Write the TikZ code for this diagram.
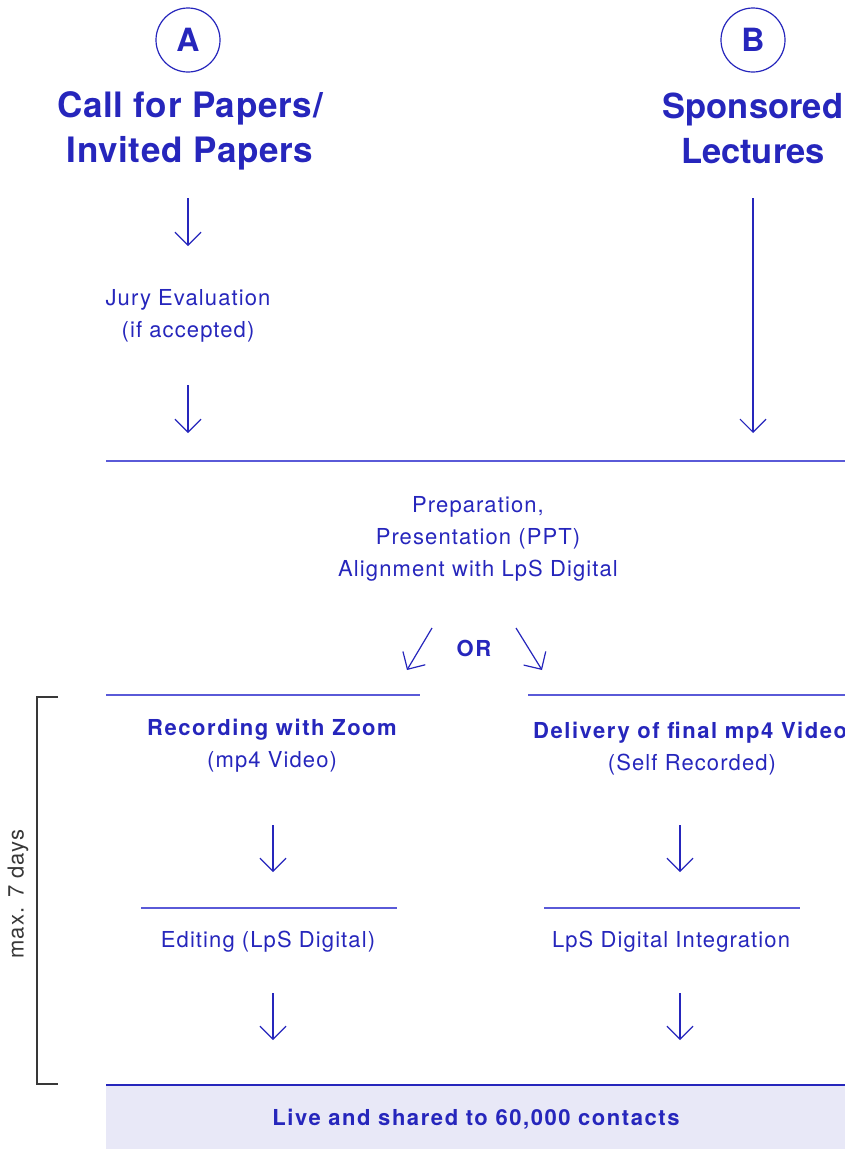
\documentclass[tikz,border=0pt]{standalone}
\usepackage{fontspec}
\setmainfont{TeX Gyre Heros}
\newfontfamily\bodyfont[LetterSpace=5]{TeX Gyre Heros}
\newfontfamily\boldfont[LetterSpace=7]{TeX Gyre Heros}
\newfontfamily\headfont[LetterSpace=2]{TeX Gyre Heros}
\newfontfamily\headtight{TeX Gyre Heros}
\usetikzlibrary{arrows.meta}
\definecolor{ink}{HTML}{2626BC}
\definecolor{rule}{HTML}{5A5AD8}
\definecolor{barfill}{HTML}{E8E8F7}
\definecolor{brk}{HTML}{383838}
\tikzset{
  head/.style={text=ink, font=\headfont\fontsize{35}{45}\selectfont\bfseries, align=center, inner sep=0pt},
  body/.style={text=ink, font=\bodyfont\fontsize{22}{32}\selectfont, align=center, inner sep=0pt},
  bodyb/.style={text=ink, font=\boldfont\fontsize{22}{32}\selectfont\bfseries, align=center, inner sep=0pt},
  letter/.style={circle, draw=ink, line width=1.2pt, minimum size=64pt, inner sep=0pt, text=ink, font=\fontsize{32}{32}\selectfont\bfseries},
  flow/.style={draw=ink, line width=1.2pt, -{Straight Barb[length=13pt,width=26pt,line width=1.2pt]}},
  sep/.style={draw=rule, line width=1.3pt},
}
\begin{document}
\begin{tikzpicture}[x=1pt,y=-1pt]
\useasboundingbox (0,0) rectangle (845,1149);
\clip (0,0) rectangle (845,1149);
% circles
\node[letter] (A) at (188,40) {A};
\node[letter] (B) at (753,40) {B};
% headings
\node[head] (ha) at (190,131) {Call for Papers/\\Invited Papers};
\node[head, font=\headtight\fontsize{34.5}{45}\selectfont\bfseries] (hb) at (753,128) {Sponsored\\Lectures};
% arrows column A
\coordinate (a1s) at (188,198); \coordinate (a1e) at (188,246);
\draw[flow] (a1s) -- (a1e);
\node[body] (jury) at (188,316) {Jury Evaluation\\(if accepted)};
\coordinate (a2s) at (188,385); \coordinate (a2e) at (188,433);
\draw[flow] (a2s) -- (a2e);
% arrow B
\coordinate (b1s) at (753,198); \coordinate (b1e) at (753,433);
\draw[flow] (b1s) -- (b1e);
% line
\coordinate (l1a) at (106,461); \coordinate (l1b) at (845,461);
\draw[sep] (l1a) -- (l1b);
\node[body] (prep) at (478,539) {Preparation,\\Presentation (PPT)\\Alignment with LpS Digital};
% OR
\node[bodyb] (or) at (474,648) {OR};
\coordinate (ol1) at (432,628); \coordinate (ol2) at (407,670);
\coordinate (or1) at (516,628); \coordinate (or2) at (542,670);
\draw[flow] (ol1) -- (ol2);
\draw[flow] (or1) -- (or2);
% second lines
\coordinate (l2a) at (106,695); \coordinate (l2b) at (420,695);
\coordinate (l3a) at (528,695); \coordinate (l3b) at (845,695);
\draw[sep] (l2a) -- (l2b);
\draw[sep] (l3a) -- (l3b);
\node[body] (rec) at (272,746) {\boldfont\bfseries Recording with Zoom\\(mp4 Video)};
\node[bodyb, anchor=west] (del) at (533,733) {Delivery of final mp4 Video};
\node[body] (self) at (692,765) {(Self Recorded)};
% arrows
\coordinate (c1s) at (273,825); \coordinate (c1e) at (273,872);
\coordinate (d1s) at (680,825); \coordinate (d1e) at (680,872);
\draw[flow] (c1s) -- (c1e);
\draw[flow] (d1s) -- (d1e);
\coordinate (l4a) at (141,908); \coordinate (l4b) at (397,908);
\coordinate (l5a) at (544,908); \coordinate (l5b) at (800,908);
\draw[sep] (l4a) -- (l4b);
\draw[sep] (l5a) -- (l5b);
\node[body] (edit) at (268,942) {Editing (LpS Digital)};
\node[body] (integ) at (671,942) {LpS Digital Integration};
\coordinate (c2s) at (273,993); \coordinate (c2e) at (273,1040);
\coordinate (d2s) at (680,993); \coordinate (d2e) at (680,1040);
\draw[flow] (c2s) -- (c2e);
\draw[flow] (d2s) -- (d2e);
% bottom bar
\fill[barfill] (106,1085) rectangle (845,1149);
\coordinate (l6a) at (106,1085); \coordinate (l6b) at (845,1085);
\draw[draw=ink, line width=1.3pt] (l6a) -- (l6b);
\node[bodyb] (live) at (476,1119) {Live and shared to 60,000 contacts};
% bracket
\draw[brk, line width=1.2pt] (58,697) -- (37,697) -- (37,1084) -- (58,1084);
\node[text=brk, font=\bodyfont\fontsize{22}{24}\selectfont, rotate=90, inner sep=0pt] (days) at (18,894) {max. 7 days};
\end{tikzpicture}
\end{document}
